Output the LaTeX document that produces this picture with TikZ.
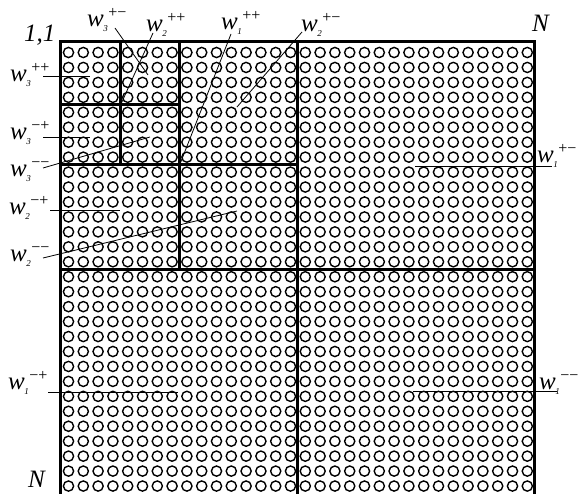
\documentclass[tikz,border=0pt]{standalone}
\usepackage{fontspec}
\setmainfont{Liberation Serif}
\newcommand\wlab[2]{\textit{w}\kern-0.5pt\raisebox{-5pt}{\fontsize{9}{9}\selectfont\textit{#1}}\kern0.5pt\raisebox{9pt}{\fontsize{16}{16}\selectfont #2}}
\begin{document}
\begin{tikzpicture}[x=1pt,y=-1pt,
  divline/.style={line width=3pt},
  leader/.style={line width=0.8pt},
  dot/.style={line width=1.4pt},
  lab/.style={anchor=base west, inner sep=0pt, font=\fontsize{25}{25}\selectfont}]
\useasboundingbox (0,0) rectangle (579,494);
\clip (0,0) rectangle (579,494);
% circles
\foreach \i in {0,...,30} {
  \foreach \j in {0,...,31} {
    \draw[dot] ({68.5+14.8*\j},{52.5+14.95*\i}) circle[radius=5.1pt];
  }
}
% quadtree division lines
\draw[divline] (60.5,505) -- (60.5,42) -- (534.8,42) -- (534.8,505);
\draw[divline] (297.9,42) -- (297.9,505);
\draw[divline] (60.5,269.3) -- (534.8,269.3);
\draw[divline] (179.5,42) -- (179.5,269.3);
\draw[divline] (60.5,164.6) -- (297.9,164.6);
\draw[divline] (120.3,42) -- (120.3,164.6);
\draw[divline] (60.5,104.8) -- (179.5,104.8);
% quadrant target points
\coordinate (q3pp) at (90,76);
\coordinate (q3mp) at (90,137);
\coordinate (q3pm) at (148,75);
\coordinate (q3mm) at (150,137);
\coordinate (q2pp) at (121,104);
\coordinate (q2pm) at (237,107);
\coordinate (q2mp) at (120,210);
\coordinate (q2mm) at (237,211);
\coordinate (q1pp) at (180,164);
\coordinate (q1pm) at (415,166);
\coordinate (q1mp) at (178,392);
\coordinate (q1mm) at (413,391);
% leader start points
\coordinate (s3pp) at (43,76);
\coordinate (s3mp) at (43,137);
\coordinate (s3mm) at (43,168);
\coordinate (s2mp) at (50,210);
\coordinate (s2mm) at (43,258);
\coordinate (s1mp) at (48,392);
\coordinate (s1pm) at (552,166);
\coordinate (s1mm) at (557,391);
\coordinate (s3pm) at (115,28);
\coordinate (s2pp) at (153,33);
\coordinate (s1pp) at (231,34);
\coordinate (s2pm) at (302,32);
% labels
\node[lab] (l11) at (24,42) {\textit{1,1}};
\node[lab] (ntop) at (532,32) {\textit{N}};
\node[lab] (nbot) at (28,488) {\textit{N}};
\node[lab] (w3pm) at (87,27) {\wlab{3}{+−}};
\node[lab] (w2pp) at (146,32) {\wlab{2}{++}};
\node[lab] (w1pp) at (221,30) {\wlab{1}{++}};
\node[lab] (w2pm) at (301,32) {\wlab{2}{+−}};
\node[lab] (w3pp) at (10,82) {\wlab{3}{++}};
\node[lab] (w3mp) at (10,140) {\wlab{3}{−+}};
\node[lab] (w3mm) at (10,177) {\wlab{3}{−−}};
\node[lab] (w2mp) at (9,215) {\wlab{2}{−+}};
\node[lab] (w2mm) at (10,262) {\wlab{2}{−−}};
\node[lab] (w1mp) at (8,390) {\wlab{1}{−+}};
\node[lab] (w1pm) at (537,163) {\wlab{1}{+−}};
\node[lab] (w1mm) at (539,390) {\wlab{1}{−−}};
% leaders
\draw[leader] (s3pp) -- (q3pp);
\draw[leader] (s3mp) -- (q3mp);
\draw[leader] (s3mm) -- (q3mm);
\draw[leader] (s2mp) -- (q2mp);
\draw[leader] (s2mm) -- (q2mm);
\draw[leader] (s1mp) -- (q1mp);
\draw[leader] (s1pm) -- (q1pm);
\draw[leader] (s1mm) -- (q1mm);
\draw[leader] (s3pm) -- (q3pm);
\draw[leader] (s2pp) -- (q2pp);
\draw[leader] (s1pp) -- (q1pp);
\draw[leader] (s2pm) -- (q2pm);
\end{tikzpicture}
\end{document}
